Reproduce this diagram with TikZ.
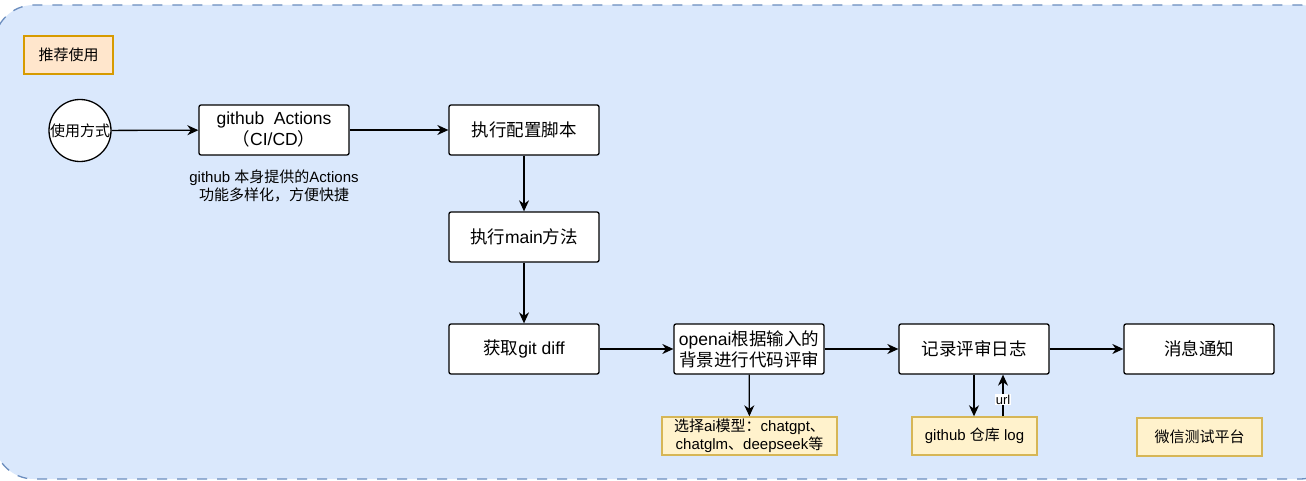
\documentclass[tikz,border=0pt]{standalone}
\usepackage{fontspec}
\setmainfont{Liberation Sans}
\newfontfamily\cjk{Noto Sans CJK SC}
\usetikzlibrary{arrows.meta}
\definecolor{bgfill}{HTML}{DAE8FC}
\definecolor{bgdraw}{HTML}{6C8EBF}
\definecolor{orfill}{HTML}{FFE6CC}
\definecolor{ordraw}{HTML}{D79B00}
\definecolor{yefill}{HTML}{FFF2CC}
\definecolor{yedraw}{HTML}{D6B656}
\tikzset{
  stepbox/.style={draw=black, fill=white, line width=1.3pt, rounded corners=2pt,
    minimum width=150pt, minimum height=50pt, inner sep=0pt, align=center,
    font=\fontsize{17.5pt}{21pt}\selectfont},
  notebox/.style={draw=yedraw, fill=yefill, line width=1.4pt,
    minimum height=38pt, inner sep=0pt, align=center,
    font=\fontsize{15pt}{18pt}\selectfont},
  arr/.style={line width=1.3pt, -{Stealth[length=11pt,width=10pt,inset=3.5pt]}},
}
\begin{document}
\begin{tikzpicture}[x=1pt,y=-1pt]
\useasboundingbox (0,0) rectangle (1306,481);
\fill[white] (0,0) rectangle (1306,481);
\begin{scope}
\clip (0,0) rectangle (1306,481);
\draw[draw=bgdraw, fill=bgfill, line width=1.3pt, dash pattern=on 10pt off 10pt, rounded corners=40pt]
  (-6,5) rectangle (1340,479);
\end{scope}

\node[draw=ordraw, fill=orfill, line width=1.4pt, minimum width=89pt, minimum height=38pt,
  inner sep=0pt, font=\fontsize{15pt}{18pt}\selectfont] (tj) at (68.5,55) {\cjk 推荐使用};

\node[circle, draw=black, fill=white, line width=1.3pt, minimum size=62pt, inner sep=0pt,
  font=\fontsize{15pt}{18pt}\selectfont] (use) at (80,130.5) {\cjk 使用方式};

\node[stepbox] (gha) at (274,130) {github\ \ Actions\\{\cjk （}CI/CD{\cjk ）}};
\node[align=center, inner sep=0pt, font=\fontsize{15pt}{18pt}\selectfont] (desc) at (274,186)
  {github {\cjk 本身提供的}Actions\\{\cjk 功能多样化，方便快捷}};

\node[stepbox] (cfg) at (524,130) {\cjk 执行配置脚本};
\node[stepbox] (mainm) at (524,237) {{\cjk 执行}main{\cjk 方法}};
\node[stepbox] (diff) at (524,349) {{\cjk 获取}git diff};
\node[stepbox] (openai) at (749,349) {openai{\cjk 根据输入的}\\{\cjk 背景进行代码评审}};
\node[stepbox] (log) at (974,349) {\cjk 记录评审日志};
\node[stepbox] (notify) at (1199,349) {\cjk 消息通知};

\node[notebox, minimum width=175pt] (ai) at (749.5,436)
  {{\cjk 选择}ai{\cjk 模型：}chatgpt{\cjk 、}\\chatglm{\cjk 、}deepseek{\cjk 等}};
\node[notebox, minimum width=125pt] (repo) at (974.5,436) {github {\cjk 仓库} log};
\node[notebox, minimum width=125pt] (wx) at (1199.5,437) {\cjk 微信测试平台};

\draw[arr] (use) -- (gha);
\draw[arr] (gha) -- (cfg);
\draw[arr] (cfg) -- (mainm);
\draw[arr] (mainm) -- (diff);
\draw[arr] (diff) -- (openai);
\draw[arr] (openai) -- (ai);
\draw[arr] (openai) -- (log);
\draw[arr] (log) -- (notify);
\draw[arr] (log.south) -- (repo.north -| log.south);
\draw[arr] ([xshift=29pt]repo.north -| log.south) -- node[pos=0.4, fill=white, inner sep=1pt,
  font=\fontsize{13pt}{15pt}\selectfont] (url) {url} ([xshift=29pt]log.south);
\end{tikzpicture}
\end{document}
